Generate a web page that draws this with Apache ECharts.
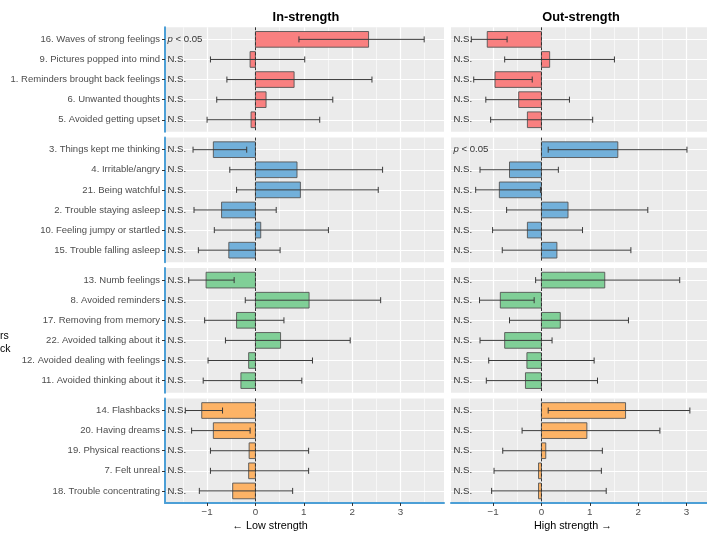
<!DOCTYPE html>
<html><head><meta charset="utf-8">
<script src="https://cdn.jsdelivr.net/npm/echarts@6/dist/echarts.min.js"></script>
<style>html,body{margin:0;padding:0;background:#fff}#c{width:707px;height:533px}</style>
</head><body><div id="c"></div>
<script>
// ---------- data ----------
const xTicks = [-1, 0, 1, 2, 3];
const xMinorTicks = [-1.5, -0.5, 0.5, 1.5, 2.5, 3.5];
const panelTitles = ['In-strength', 'Out-strength'];
const xAxisTitles = ['\u2190 Low strength', 'High strength \u2192'];

const redItems = ['16. Waves of strong feelings', '9. Pictures popped into mind', '1. Reminders brought back feelings', '6. Unwanted thoughts', '5. Avoided getting upset'];
// [estimate, lower, upper]
const redIn  = [[2.34, 0.90, 3.49], [-0.11, -0.93, 1.02], [0.80, -0.59, 2.41], [0.22, -0.80, 1.60], [-0.09, -1.00, 1.33]];
const redInSig = ['p < 0.05', 'N.S.', 'N.S.', 'N.S.', 'N.S.'];
const redOut = [[-1.12, -1.45, -0.71], [0.17, -0.76, 1.51], [-0.96, -1.40, -0.19], [-0.47, -1.15, 0.58], [-0.29, -1.05, 1.06]];
const redOutSig = ['N.S.', 'N.S.', 'N.S.', 'N.S.', 'N.S.'];

const blueItems = ['3. Things kept me thinking', '4. Irritable/angry', '21. Being watchful', '2. Trouble staying asleep', '10. Feeling jumpy or startled', '15. Trouble falling asleep'];
const blueIn  = [[-0.87, -1.29, -0.18], [0.86, -0.53, 2.63], [0.93, -0.39, 2.54], [-0.70, -1.27, 0.43], [0.11, -0.85, 1.51], [-0.55, -1.18, 0.51]];
const blueInSig = ['N.S.', 'N.S.', 'N.S.', 'N.S.', 'N.S.', 'N.S.'];
const blueOut = [[1.58, 0.14, 3.01], [-0.66, -1.27, 0.35], [-0.87, -1.36, -0.02], [0.55, -0.72, 2.20], [-0.29, -1.01, 0.85], [0.32, -0.81, 1.85]];
const blueOutSig = ['p < 0.05', 'N.S.', 'N.S.', 'N.S.', 'N.S.', 'N.S.'];

const greenItems = ['13. Numb feelings', '8. Avoided reminders', '17. Removing from memory', '22. Avoided talking about it', '12. Avoided dealing with feelings', '11. Avoided thinking about it'];
const greenIn  = [[-1.02, -1.38, -0.44], [1.11, -0.21, 2.59], [-0.39, -1.05, 0.59], [0.52, -0.62, 1.96], [-0.14, -0.98, 1.18], [-0.30, -1.08, 0.96]];
const greenInSig = ['N.S.', 'N.S.', 'N.S.', 'N.S.', 'N.S.', 'N.S.'];
const greenOut = [[1.31, -0.12, 2.86], [-0.85, -1.28, -0.15], [0.39, -0.66, 1.80], [-0.76, -1.27, 0.22], [-0.30, -1.09, 1.09], [-0.33, -1.14, 1.16]];
const greenOutSig = ['N.S.', 'N.S.', 'N.S.', 'N.S.', 'N.S.', 'N.S.'];

const orangeItems = ['14. Flashbacks', '20. Having dreams', '19. Physical reactions', '7. Felt unreal', '18. Trouble concentrating'];
const orangeIn  = [[-1.11, -1.45, -0.68], [-0.87, -1.32, -0.11], [-0.13, -0.93, 1.10], [-0.14, -0.93, 1.10], [-0.47, -1.16, 0.77]];
const orangeInSig = ['N.S.', 'N.S.', 'N.S.', 'N.S.', 'N.S.'];
const orangeOut = [[1.74, 0.14, 3.07], [0.94, -0.40, 2.45], [0.09, -0.80, 1.26], [-0.06, -0.98, 1.24], [-0.06, -1.03, 1.34]];
const orangeOutSig = ['N.S.', 'N.S.', 'N.S.', 'N.S.', 'N.S.'];

// ---------- layout / style ----------
const FONT = 'Liberation Sans, Arial, Helvetica, sans-serif';
const X_MIN = -1.87, X_MAX = 3.9, LABEL_X = -1.82;
const colLeft = [165, 451], fullWidth = 279;
const pxPerUnit = fullWidth / (X_MAX - X_MIN);
const colWidth = [279, 256];   // right panel is cut off by the picture's right edge
const colMax = colWidth.map(w => X_MIN + w / pxPerUnit);
const unit = 20.1, gap = 5.8, top0 = 27.3;
const axisBlue = '#4C9FD6';
const groups = [
  { items: redItems, fill: '#F98080', cols: [[redIn, redInSig], [redOut, redOutSig]] },
  { items: blueItems, fill: '#72B0DA', cols: [[blueIn, blueInSig], [blueOut, blueOutSig]] },
  { items: greenItems, fill: '#80CF97', cols: [[greenIn, greenInSig], [greenOut, greenOutSig]] },
  { items: orangeItems, fill: '#FDB366', cols: [[orangeIn, orangeInSig], [orangeOut, orangeOutSig]] }
];

const fmt = v => (v < 0 ? '\u2212' + Math.abs(v) : String(v));

function makeRender(rows, sigs, fill) {
  return function (params, api) {
    const i = params.dataIndex;
    const est = rows[i][0], lo = rows[i][1], hi = rows[i][2];
    const a = api.coord([0, i - 0.39]);
    const b = api.coord([est, i + 0.39]);
    const l = api.coord([lo, i]);
    const h = api.coord([hi, i]);
    const cap = Math.abs(api.coord([0, i + 0.15])[1] - api.coord([0, i - 0.15])[1]) / 2;
    const t = api.coord([LABEL_X, i]);
    const sig = sigs[i];
    const isP = sig.indexOf('p') === 0;
    const line = { stroke: '#3a3a3a', lineWidth: 1 };
    return {
      type: 'group',
      children: [
        { type: 'rect', shape: { x: Math.min(a[0], b[0]), y: Math.min(a[1], b[1]), width: Math.abs(b[0] - a[0]), height: Math.abs(b[1] - a[1]) },
          style: { fill: fill, stroke: '#555', lineWidth: 0.9 } },
        { type: 'line', shape: { x1: l[0], y1: l[1], x2: h[0], y2: h[1] }, style: line },
        { type: 'line', shape: { x1: l[0], y1: l[1] - cap, x2: l[0], y2: l[1] + cap }, style: line },
        { type: 'line', shape: { x1: h[0], y1: h[1] - cap, x2: h[0], y2: h[1] + cap }, style: line },
        { type: 'text', style: { text: isP ? '{i|p} < 0.05' : sig, x: t[0], y: t[1], align: 'left', verticalAlign: 'middle',
            fontSize: 9.6, fontFamily: FONT, fill: '#333',
            rich: { i: { fontStyle: 'italic', fontSize: 9.6, fontFamily: FONT, fill: '#333' } } } }
      ]
    };
  };
}

const grid = [], xAxis = [], yAxis = [], series = [];
let panelTop = top0;
groups.forEach((g, r) => {
  const n = g.items.length;
  const height = (n - 1 + 1.2) * unit;
  const isBottom = r === groups.length - 1;
  const idx = g.items.map((_, i) => i);
  for (let c = 0; c < 2; c++) {
    const k = grid.length;
    grid.push({ left: colLeft[c], top: panelTop, width: colWidth[c], height: height, show: true, backgroundColor: '#EBEBEB', borderWidth: 0, containLabel: false });
    xAxis.push({
      gridIndex: k, type: 'value', min: X_MIN, max: colMax[c], position: 'bottom',
      axisLine: { show: isBottom, onZero: false, lineStyle: { color: axisBlue, width: 2 } },
      axisTick: { show: isBottom, customValues: xTicks, length: 3, lineStyle: { color: '#333' } },
      axisLabel: { show: isBottom, customValues: xTicks, formatter: fmt, color: '#4D4D4D', fontSize: 9.8, fontFamily: FONT, margin: 4 },
      splitLine: { show: true, lineStyle: { color: '#FFFFFF', width: 1.2 } }
    });
    xAxis.push({
      gridIndex: k, type: 'value', min: X_MIN, max: colMax[c], position: 'bottom',
      axisLine: { show: false }, axisLabel: { show: false },
      axisTick: { show: false, customValues: xMinorTicks },
      splitLine: { show: true, lineStyle: { color: '#FFFFFF', width: 0.6 } }
    });
    yAxis.push({
      gridIndex: k, type: 'value', inverse: true, min: -0.6, max: n - 0.4,
      axisLine: { show: c === 0, onZero: false, lineStyle: { color: axisBlue, width: 2 } },
      axisTick: { show: c === 0, customValues: idx, length: 3, lineStyle: { color: '#333' } },
      axisLabel: { show: c === 0, customValues: idx, formatter: v => g.items[Math.round(v)], color: '#4D4D4D', fontSize: 9.5, fontFamily: FONT, margin: 5 },
      splitLine: { show: true, lineStyle: { color: '#FFFFFF', width: 1.2 } }
    });
    const rows = g.cols[c][0], sigs = g.cols[c][1];
    series.push({
      type: 'custom', xAxisIndex: 2 * k, yAxisIndex: k, z: 3,
      renderItem: makeRender(rows, sigs, g.fill),
      data: rows.map((row, i) => [row[0], i, row[1], row[2]]),
      encode: { x: [0, 2, 3], y: 1 },
      silent: true,
      markLine: { silent: true, symbol: 'none', label: { show: false }, z: 5,
        lineStyle: { type: [3, 2], color: '#333', width: 1 }, data: [{ xAxis: 0 }] }
    });
  }
  panelTop += height + gap;
});

const textStyle = (t, x, y, size, weight, align) => ({ type: 'text', x: x, y: y,
  style: { text: t, fontSize: size, fontWeight: weight, fontFamily: FONT, fill: '#000', align: align, verticalAlign: 'middle' } });

const graphic = [
  textStyle(panelTitles[0], 306, 17, 12.8, 'bold', 'center'),
  textStyle(panelTitles[1], 581, 17, 12.8, 'bold', 'center'),
  textStyle(xAxisTitles[0], 270, 526, 10.8, 'normal', 'center'),
  textStyle(xAxisTitles[1], 573, 526, 10.8, 'normal', 'center'),
  textStyle('rs', 0, 336, 10.5, 'normal', 'left'),
  textStyle('ck', 0, 349.5, 10.5, 'normal', 'left')
];

const chart = echarts.init(document.getElementById('c'), null, { renderer: 'canvas' });
chart.setOption({ animation: false, backgroundColor: '#fff', grid, xAxis, yAxis, series, graphic });
</script></body></html>
